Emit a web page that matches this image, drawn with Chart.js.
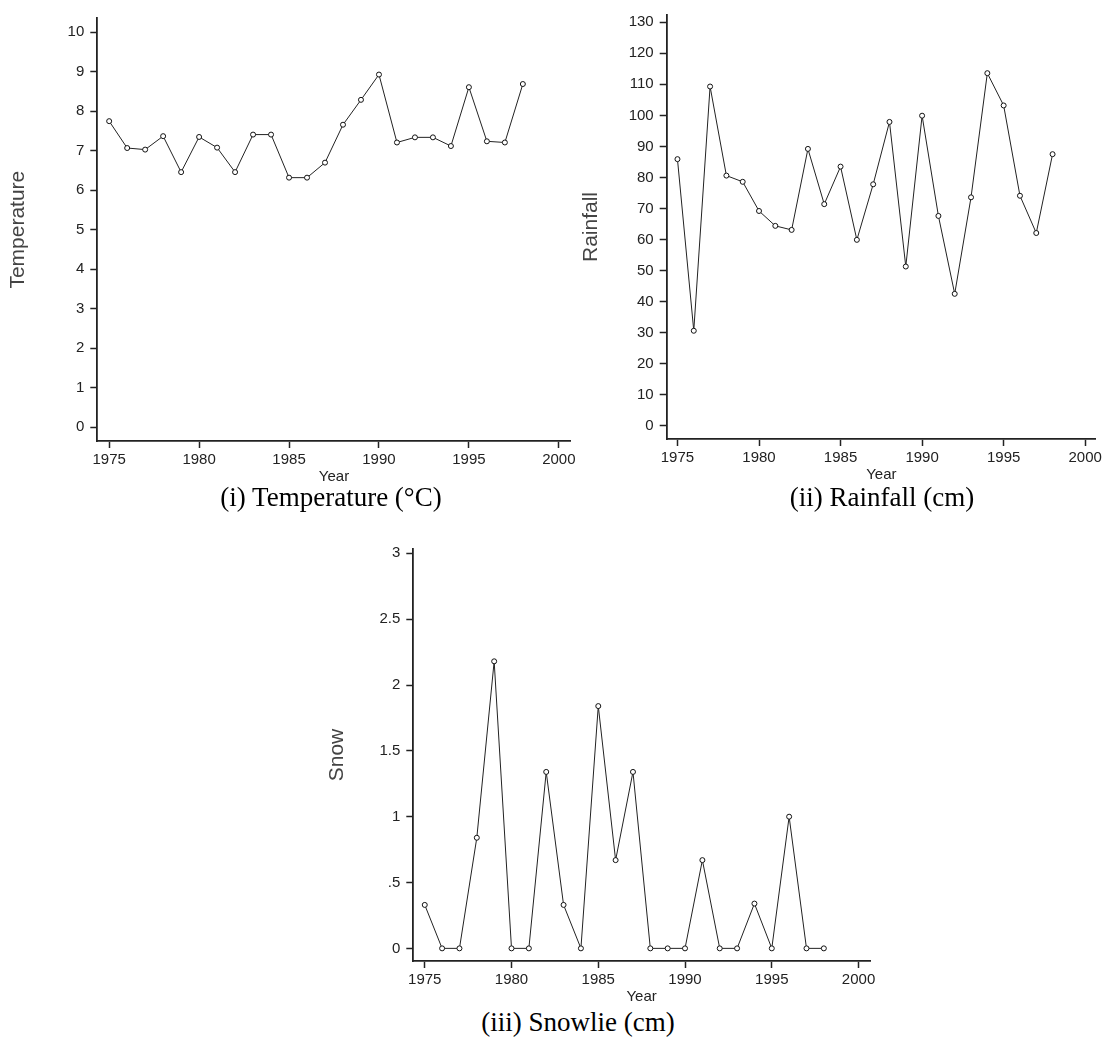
<!DOCTYPE html>
<html>
<head>
<meta charset="utf-8">
<script src="https://cdn.jsdelivr.net/npm/chart.js@4.4.0/dist/chart.umd.min.js"></script>
<style>
  body { margin: 0; background: #fff; width: 1105px; height: 1041px; position: relative; overflow: hidden; }
  .box { position: absolute; }
  .caption { position: absolute; font-family: "Liberation Serif", "Times New Roman", serif; font-size: 27px; color: #000; transform: translate(-50%, -50%); white-space: nowrap; }
</style>
</head>
<body>
<div class="box" style="left:0;top:0;width:580px;height:486px"><canvas id="temp"></canvas></div>
<div class="box" style="left:575px;top:0;width:530px;height:484px"><canvas id="rain"></canvas></div>
<div class="box" style="left:320px;top:530px;width:560px;height:476px"><canvas id="snow"></canvas></div>
<div class="caption" style="left:331px;top:497px">(i) Temperature (°C)</div>
<div class="caption" style="left:882px;top:497px">(ii) Rainfall (cm)</div>
<div class="caption" style="left:578px;top:1022px">(iii) Snowlie (cm)</div>
<script>
// ---- données ----
const annees = [1975, 1976, 1977, 1978, 1979, 1980, 1981, 1982, 1983, 1984, 1985, 1986,
  1987, 1988, 1989, 1990, 1991, 1992, 1993, 1994, 1995, 1996, 1997, 1998]
const temperature = [7.75, 7.07, 7.03, 7.37, 6.46, 7.35, 7.08, 6.46, 7.41, 7.41, 6.32, 6.32,
  6.7, 7.66, 8.29, 8.93, 7.21, 7.34, 7.34, 7.12, 8.61, 7.24, 7.21, 8.69]
const pluie = [85.9, 30.6, 109.3, 80.6, 78.6, 69.2, 64.4, 63.1, 89.2, 71.4, 83.5, 59.9,
  77.8, 97.9, 51.3, 99.9, 67.6, 42.5, 73.6, 113.6, 103.2, 74.1, 62.1, 87.5]
const neige = [0.33, 0, 0, 0.84, 2.18, 0, 0, 1.34, 0.33, 0, 1.84, 0.67,
  1.34, 0, 0, 0, 0.67, 0, 0, 0.34, 0, 1.0, 0, 0]

const ticksAnnees = [1975, 1980, 1985, 1990, 1995, 2000]
const ticksTemp = [0, 1, 2, 3, 4, 5, 6, 7, 8, 9, 10]
const ticksPluie = [0, 10, 20, 30, 40, 50, 60, 70, 80, 90, 100, 110, 120, 130]
const ticksNeige = [0, 0.5, 1, 1.5, 2, 2.5, 3]

const police = "'Liberation Sans', Arial, sans-serif"
const encre = '#222'

function graphique(id, valeurs, ticksY, titreY, g) {
  new Chart(document.getElementById(id), {
    type: 'line',
    data: {
      datasets: [{
        data: annees.map((a, i) => ({ x: a, y: valeurs[i] })),
        borderColor: encre,
        borderWidth: 1,
        tension: 0,
        pointRadius: 2.5,
        pointBorderWidth: 1,
        pointBorderColor: '#111',
        pointBackgroundColor: '#fff'
      }]
    },
    options: {
      responsive: true,
      maintainAspectRatio: false,
      animation: false,
      layout: { padding: { left: 0, top: g.haut, right: g.droite, bottom: 0 } },
      plugins: { legend: { display: false }, tooltip: { enabled: false } },
      scales: {
        x: {
          type: 'linear',
          min: 1974.34,
          max: 2000.66,
          afterFit: s => { s.height = 45 },
          afterBuildTicks: s => { s.ticks = ticksAnnees.map(v => ({ value: v })) },
          grid: { drawOnChartArea: false, tickLength: 7, color: encre, tickWidth: 1.5 },
          border: { color: encre, width: 1.8 },
          ticks: { padding: 3, color: encre, maxRotation: 0, autoSkip: false,
            font: { family: police, size: 15 },
            callback: v => String(v) },
          title: { display: true, text: 'Year', color: encre, padding: { top: 0, bottom: 0 },
            font: { family: police, size: 15 } }
        },
        y: {
          min: g.min,
          max: g.max,
          afterFit: s => { s.width = g.largeurY },
          afterBuildTicks: s => { s.ticks = ticksY.map(v => ({ value: v })) },
          grid: { drawOnChartArea: false, tickLength: 7, color: encre, tickWidth: 1.5 },
          border: { color: encre, width: 1.8 },
          ticks: { padding: 6, color: encre, autoSkip: false,
            font: { family: police, size: 15 },
            callback: v => String(v).replace(/^0\./, '.') },
          title: { display: true, text: titreY, color: '#444', padding: { top: g.titrePad, bottom: 0 },
            font: { family: police, size: 21 } }
        }
      }
    }
  })
}

graphique('temp', temperature, ticksTemp, 'Temperature',
  { haut: 18.3, droite: 9.3, min: -0.347, max: 10.354, largeurY: 97.3, titrePad: 6 })
graphique('rain', pluie, ticksPluie, 'Rainfall',
  { haut: 15, droite: 2, min: -4.28, max: 132.35, largeurY: 91.7, titrePad: 3.5 })
graphique('snow', neige, ticksNeige, 'Snow',
  { haut: 19, droite: 10, min: -0.096, max: 3.033, largeurY: 93.3, titrePad: 4.5 })
</script>
</body>
</html>
